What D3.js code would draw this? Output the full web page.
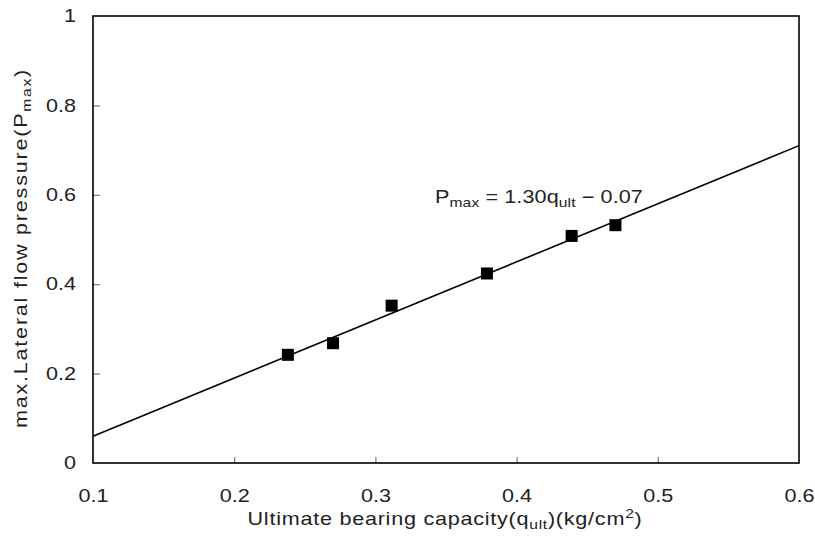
<!DOCTYPE html>
<html>
<head>
<meta charset="utf-8">
<script src="https://cdn.jsdelivr.net/npm/d3@7"></script>
<style>
  body { margin: 0; background: #fff; }
  text { font-family: "Liberation Sans", Arial, sans-serif; fill: #222; }
</style>
</head>
<body>
<div id="chart"></div>
<script>
var width = 815;
var height = 536;
var margin = {top: 16, right: 16, bottom: 73, left: 93};

// measured points
var capacity = [0.238, 0.270, 0.3115, 0.379, 0.439, 0.470];
var pressure = [0.242, 0.268, 0.352, 0.424, 0.508, 0.532];

// regression P = 1.30 q - 0.07
var slope = 1.30;
var intercept = -0.07;

var xTicks = [0.1, 0.2, 0.3, 0.4, 0.5, 0.6];
var yTicks = [0, 0.2, 0.4, 0.6, 0.8, 1];

// the source font is wider than Liberation Sans, so stretch text a bit
var stretch = 1.2;

var svg = d3.select('#chart')
    .append('svg')
    .attr('width', width)
    .attr('height', height);

var x = d3.scaleLinear().domain([0.1, 0.6]).range([margin.left, width - margin.right - 0]);
var y = d3.scaleLinear().domain([0, 1]).range([height - margin.bottom, margin.top]);

// fit line across the whole x range
var lineData = x.domain().map(function(q) { return [q, slope * q + intercept]; });
var line = d3.line().x(function(d) { return x(d[0]); }).y(function(d) { return y(d[1]); });

svg.append('path')
    .attr('d', line(lineData))
    .attr('fill', 'none')
    .attr('stroke', '#000')
    .attr('stroke-width', 1.6);

// axes with inward ticks
var xAxis = d3.axisBottom(x).tickValues(xTicks).tickSize(-6).tickPadding(26)
    .tickFormat(function(d) { return String(d); });
var xg = svg.append('g').attr('transform', 'translate(0,' + (height - margin.bottom) + ')').call(xAxis);

var yAxis = d3.axisLeft(y).tickValues(yTicks).tickSize(-7).tickPadding(17)
    .tickFormat(function(d) { return String(d); });
var yg = svg.append('g').attr('transform', 'translate(' + margin.left + ',0)').call(yAxis);

[xg, yg].forEach(function(g) {
  g.select('.domain').remove();
  g.selectAll('.tick line').attr('stroke', '#777').attr('stroke-width', 1.2);
  g.selectAll('.tick text').style('font-size', '18px').attr('fill', '#222');
});
xg.selectAll('.tick text').attr('transform', 'scale(' + stretch + ',1)');
yg.selectAll('.tick text').attr('x', -17 / stretch).attr('transform', 'scale(' + stretch + ',1)');
// drop edge ticks that sit on the frame
xg.selectAll('.tick line').filter(function(d) { return d === 0.1 || d === 0.6; }).remove();
yg.selectAll('.tick line').filter(function(d) { return d === 0 || d === 1; }).remove();

// frame
svg.append('rect')
    .attr('x', x(0.1)).attr('y', y(1))
    .attr('width', x(0.6) - x(0.1)).attr('height', y(0) - y(1))
    .attr('fill', 'none').attr('stroke', '#000').attr('stroke-width', 1.6);

// points
var sq = 12;
svg.append('g').selectAll('rect')
    .data(capacity)
    .join('rect')
    .attr('x', function(d) { return x(d) - sq / 2; })
    .attr('y', function(d, i) { return y(pressure[i]) - sq / 2; })
    .attr('width', sq).attr('height', sq)
    .attr('fill', '#000');

// spread letters so a label covers the width it has in the source
function fitWidth(t, target) {
  var w = t.node().getComputedTextLength();
  var n = t.text().length;
  var ls = (target / stretch - w) / n;
  if (ls > 0) t.style('letter-spacing', ls + 'px');
}

// equation
var eq = svg.append('g').attr('transform', 'translate(435,203) scale(' + stretch + ',1)')
    .append('text').style('font-size', '18px');
eq.append('tspan').text('P');
eq.append('tspan').attr('dy', 4).style('font-size', '13px').text('max');
eq.append('tspan').attr('dy', -4).text(' = 1.30q');
eq.append('tspan').attr('dy', 4).style('font-size', '13px').text('ult');
eq.append('tspan').attr('dy', -4).text(' \u2212 0.07');
fitWidth(eq, 208);

// x title
var xt = svg.append('g').attr('transform', 'translate(445,525) scale(' + stretch + ',1)')
    .append('text').attr('text-anchor', 'middle').style('font-size', '18px');
xt.append('tspan').text('Ultimate bearing capacity(q');
xt.append('tspan').attr('dy', 4).style('font-size', '13px').text('ult');
xt.append('tspan').attr('dy', -4).text(')(kg/cm');
xt.append('tspan').attr('dy', -7).style('font-size', '13px').text('2');
xt.append('tspan').attr('dy', 7).text(')');
fitWidth(xt, 395);

// y title
var yt = svg.append('g').attr('transform', 'translate(27,248) rotate(-90) scale(' + stretch + ',1)')
    .append('text').attr('text-anchor', 'middle').style('font-size', '18px');
yt.append('tspan').text('max.Lateral flow pressure(P');
yt.append('tspan').attr('dy', 4).style('font-size', '13px').text('max');
yt.append('tspan').attr('dy', -4).text(')');
fitWidth(yt, 360);
</script>
</body>
</html>
